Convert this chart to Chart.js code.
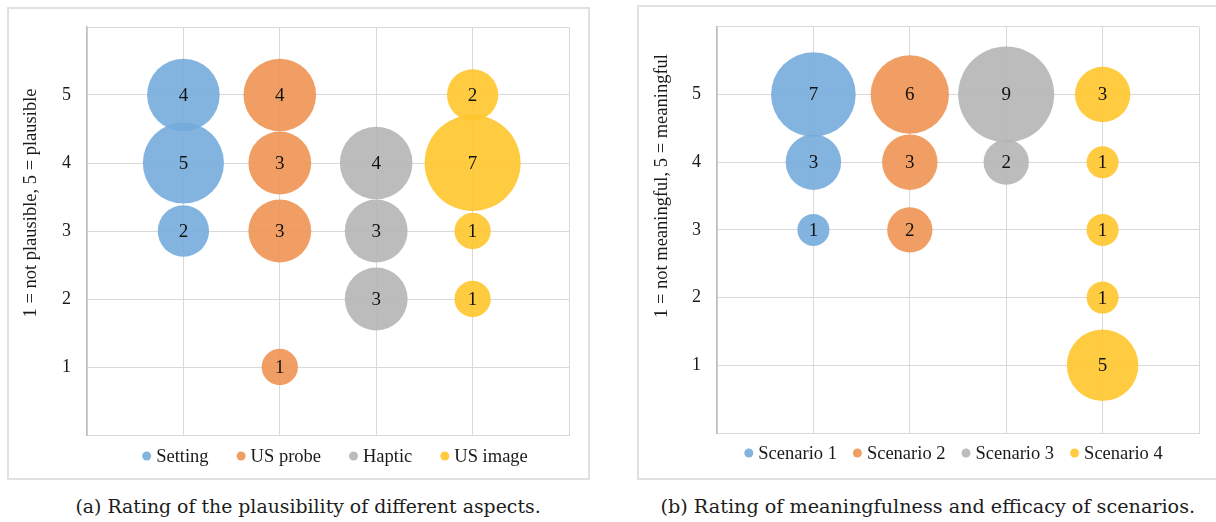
<!DOCTYPE html>
<html>
<head>
<meta charset="utf-8">
<script src="https://cdn.jsdelivr.net/npm/chart.js@4.4.1/dist/chart.umd.min.js"></script>
<style>
  html, body { margin: 0; padding: 0; background: #fff; width: 1216px; height: 522px; overflow: hidden; }
  .panel { position: absolute; border: 2px solid #e1e1e1; box-sizing: border-box; }
  #panelA { left: 7px; top: 7px; width: 583px; height: 473px; }
  #panelB { left: 637px; top: 5px; width: 600px; height: 475px; }
  canvas { position: absolute; top: 0; }
  #chartA { left: 0; }
  #chartB { left: 630px; }
  .caption { position: absolute; top: 496px; font-family: "DejaVu Serif", serif; font-size: 18px;
             color: #1c1c1c; white-space: nowrap; transform-origin: 50% 50%; }
  #fontProbe { position: absolute; left: -1000px; top: 0; font-family: "Liberation Serif"; font-size: 18px; }
</style>
</head>
<body>
<div id="fontProbe">Setting 12345</div>
<div class="panel" id="panelA"></div>
<div class="panel" id="panelB"></div>
<canvas id="chartA" width="600" height="480"></canvas>
<canvas id="chartB" width="586" height="480"></canvas>
<div class="caption" id="capA" data-center="307.5" data-width="465">(a) Rating of the plausibility of different aspects.</div>
<div class="caption" id="capB" data-center="927.5" data-width="535">(b) Rating of meaningfulness and efficacy of scenarios.</div>

<script>
// Rating scale shown on the y axis
const ratingTicks = [1, 2, 3, 4, 5];

// (a) plausibility: number of answers for ratings 1..5
const aspectNames   = ['Setting', 'US probe', 'Haptic', 'US image'];
const settingCounts = [0, 0, 2, 5, 4];
const usProbeCounts = [1, 0, 3, 3, 4];
const hapticCounts  = [0, 3, 3, 4, 0];
const usImageCounts = [0, 1, 1, 7, 2];

// (b) meaningfulness: number of answers for ratings 1..5
const scenarioNames   = ['Scenario 1', 'Scenario 2', 'Scenario 3', 'Scenario 4'];
const scenario1Counts = [0, 0, 1, 3, 7];
const scenario2Counts = [0, 0, 2, 3, 6];
const scenario3Counts = [0, 0, 0, 2, 9];
const scenario4Counts = [5, 1, 1, 1, 3];

const seriesColors = [
  'rgba(118,172,220,0.9)',
  'rgba(239,147,84,0.9)',
  'rgba(181,181,181,0.9)',
  'rgba(255,199,44,0.9)'
];
const SERIF = '"Liberation Serif", "Times New Roman", serif';
const MAX_BUBBLE_RADIUS = 48;

// Bubble area proportional to the count; largest count gets the largest bubble
function buildDatasets(names, countLists) {
  const maxCount = Math.max(...countLists.flat());
  return names.map((name, i) => {
    const points = [];
    countLists[i].forEach((count, k) => {
      if (count > 0) {
        points.push({ x: i + 1, y: ratingTicks[k], r: MAX_BUBBLE_RADIUS * Math.sqrt(count / maxCount), count });
      }
    });
    return {
      label: name,
      data: points,
      backgroundColor: seriesColors[i],
      borderWidth: 0,
      clip: false
    };
  });
}

// Count written in the middle of each bubble
const countLabels = {
  id: 'countLabels',
  afterDatasetsDraw(chart) {
    const ctx = chart.ctx;
    ctx.save();
    ctx.font = '19px ' + SERIF;
    ctx.fillStyle = '#111';
    ctx.textAlign = 'center';
    ctx.textBaseline = 'middle';
    chart.data.datasets.forEach((ds, i) => {
      chart.getDatasetMeta(i).data.forEach((el, j) => {
        ctx.fillText(String(ds.data[j].count), el.x, el.y + 1);
      });
    });
    ctx.restore();
  }
};

// Rotated y-axis title
const sideTitle = {
  id: 'sideTitle',
  afterDraw(chart, args, opts) {
    if (!opts || !opts.text) return;
    const ctx = chart.ctx;
    ctx.save();
    ctx.translate(opts.x, opts.y);
    ctx.rotate(-Math.PI / 2);
    ctx.font = '18.5px ' + SERIF;
    ctx.fillStyle = '#1a1a1a';
    ctx.textAlign = 'center';
    ctx.textBaseline = 'middle';
    ctx.fillText(opts.text, 0, 0);
    ctx.restore();
  }
};

// Single-row legend with small round markers under the plot
const rowLegend = {
  id: 'rowLegend',
  afterDraw(chart, args, opts) {
    const ctx = chart.ctx;
    const area = chart.chartArea;
    const markerR = 4.5, markerGap = 5, itemGap = opts.gap;
    ctx.save();
    ctx.font = '18.5px ' + SERIF;
    const items = chart.data.datasets.map(ds => ({
      text: ds.label, color: ds.backgroundColor, w: ctx.measureText(ds.label).width
    }));
    const total = items.reduce((s, it) => s + markerR * 2 + markerGap + it.w, 0) + itemGap * (items.length - 1);
    let x = (area.left + area.right) / 2 - total / 2 + opts.dx;
    const y = area.bottom + opts.dy;
    ctx.textBaseline = 'middle';
    ctx.textAlign = 'left';
    items.forEach(it => {
      ctx.beginPath();
      ctx.fillStyle = it.color;
      ctx.arc(x + markerR, y, markerR, 0, Math.PI * 2);
      ctx.fill();
      ctx.fillStyle = '#1a1a1a';
      ctx.fillText(it.text, x + markerR * 2 + markerGap, y + 1);
      x += markerR * 2 + markerGap + it.w + itemGap;
    });
    ctx.restore();
  }
};

function makeChart(canvasId, names, countLists, cfg) {
  return new Chart(document.getElementById(canvasId), {
    type: 'bubble',
    data: { datasets: buildDatasets(names, countLists) },
    plugins: [countLabels, sideTitle, rowLegend],
    options: {
      responsive: false,
      animation: false,
      devicePixelRatio: 1,
      events: [],
      layout: { padding: cfg.padding, autoPadding: false },
      plugins: {
        legend: { display: false },
        tooltip: { enabled: false },
        sideTitle: cfg.title,
        rowLegend: cfg.legend
      },
      scales: {
        x: {
          type: 'linear', min: 0, max: 5,
          ticks: { display: false, stepSize: 1 },
          grid: { color: '#d9d9d9', drawTicks: false },
          border: { color: '#d9d9d9' }
        },
        y: {
          type: 'linear', min: 0, max: 6,
          afterFit(scale) { scale.width = 87; },
          ticks: {
            stepSize: 1, padding: 16, color: '#1a1a1a',
            font: { family: SERIF, size: 18 },
            callback: v => (ratingTicks.includes(v) ? String(v) : '')
          },
          grid: { color: '#d9d9d9', drawTicks: false },
          border: { color: '#bfbfbf', width: 1.5 }
        }
      }
    }
  });
}

function drawAll() {
  makeChart('chartA', aspectNames, [settingCounts, usProbeCounts, hapticCounts, usImageCounts], {
    padding: { left: 0, top: 27, right: 31, bottom: 45 },
    title: { text: '1 = not plausible, 5 = plausible', x: 31, y: 203 },
    legend: { dx: 7, dy: 21, gap: 28 }
  });

  makeChart('chartB', scenarioNames, [scenario1Counts, scenario2Counts, scenario3Counts, scenario4Counts], {
    padding: { left: 0, top: 25, right: 17, bottom: 47 },
    title: { text: '1 = not meaningful, 5 = meaningful', x: 32, y: 186 },
    legend: { dx: -4.5, dy: 20, gap: 16 }
  });

  // Captions: centred under each panel at the figure width
  document.querySelectorAll('.caption').forEach(el => {
    const w = el.offsetWidth;
    const target = parseFloat(el.dataset.width);
    const center = parseFloat(el.dataset.center);
    el.style.left = (center - w / 2) + 'px';
    el.style.transform = 'scaleX(' + (target / w) + ')';
  });
}

Promise.all([
  document.fonts.load('18px "Liberation Serif"'),
  document.fonts.load('18px "DejaVu Serif"')
]).then(drawAll, drawAll);
</script>
</body>
</html>
